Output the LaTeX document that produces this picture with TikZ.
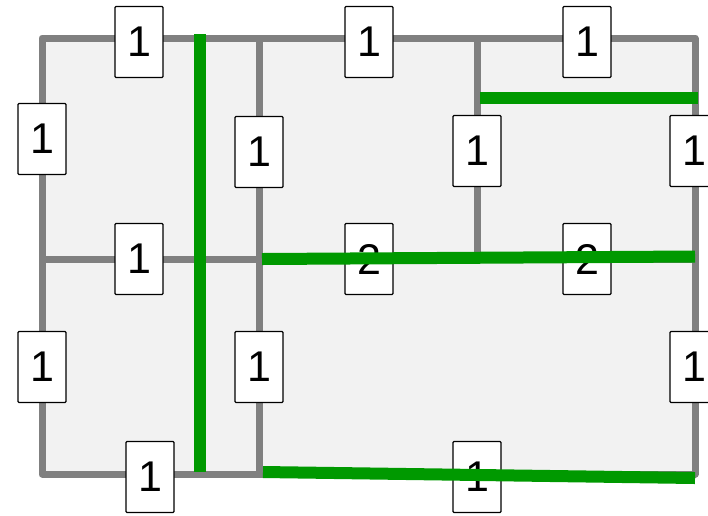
\documentclass[tikz,border=0pt]{standalone}
\usepackage{fontspec}
\setmainfont{Liberation Sans}

\definecolor{wallgrey}{HTML}{808080}
\definecolor{cutgreen}{HTML}{009900}
\definecolor{roomfill}{HTML}{F2F2F2}

\tikzset{
	wall/.style={draw=wallgrey, line width=7pt, line join=round},
	cut/.style={draw=cutgreen, line width=12pt},
	weight/.style={draw, fill=white, line width=1.3pt, rounded corners=1pt,
		minimum width=48pt, minimum height=71pt, inner sep=0pt,
		font=\fontsize{43}{43}\selectfont}
}

\begin{document}
\begin{tikzpicture}[x=1pt,y=-1pt]
		\useasboundingbox (0,0) rectangle (708,515);
		\clip (0,0) rectangle (708,515);
		% Grid points
		\coordinate (tl) at (42,38);
		\coordinate (t1) at (259,38);
		\coordinate (t2) at (477,38);
		\coordinate (tr) at (695,38);
		\coordinate (ml) at (42,259);
		\coordinate (m1) at (259,259);
		\coordinate (m2) at (477,259);
		\coordinate (mr) at (695,259);
		\coordinate (bl) at (42,474);
		\coordinate (b1) at (259,474);
		\coordinate (br) at (695,474);
		% Rooms
		\fill[roomfill] (tl) rectangle (br);
		\draw[wall] (tl) -- (tr) -- (br) -- (bl) -- cycle;
		\draw[wall] (t1) -- (b1);
		\draw[wall] (t2) -- (m2);
		\draw[wall] (ml) -- (mr);
		% Edge weights
		\node[weight] (wt1) at (139,42) {1};
		\node[weight] (wt2) at (369,42) {1};
		\node[weight] (wt3) at (587,42) {1};
		\node[weight] (wl1) at (42,139) {1};
		\node[weight] (wa1) at (259,152) {1};
		\node[weight] (wb1) at (477,151) {1};
		\node[weight] (wr1) at (694,151) {1};
		\node[weight] (wm1) at (139,259) {1};
		\node[weight] (wm2) at (369,259) {2};
		\node[weight] (wm3) at (587,259) {2};
		\node[weight] (wl2) at (42,367) {1};
		\node[weight] (wa2) at (259,367) {1};
		\node[weight] (wr2) at (694,367) {1};
		\node[weight] (wd1) at (150,477) {1};
		\node[weight] (wd2) at (477,477) {1};
		% Cuts
		\coordinate (c1a) at (200,34);
		\coordinate (c1b) at (200,472);
		\coordinate (c2a) at (480,98);
		\coordinate (c2b) at (698,98);
		\coordinate (c3a) at (262,259);
		\coordinate (c3b) at (695,256.5);
		\coordinate (c4a) at (263,472);
		\coordinate (c4b) at (695,478);
		\draw[cut] (c1a) -- (c1b);
		\draw[cut] (c2a) -- (c2b);
		\draw[cut] (c3a) -- (c3b);
		\draw[cut] (c4a) -- (c4b);
	\end{tikzpicture}
\end{document}
